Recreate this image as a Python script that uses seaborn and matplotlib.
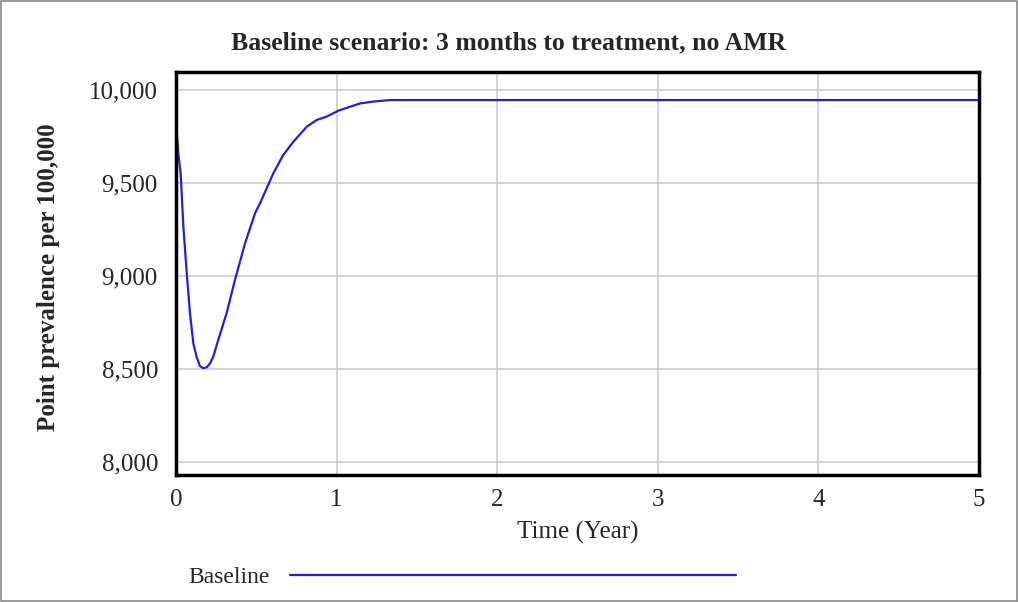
import numpy as np
import pandas as pd
import seaborn as sns
import matplotlib.pyplot as plt

# data
time_year = [0.0, 0.003, 0.014, 0.029, 0.046, 0.067, 0.087, 0.108, 0.128, 0.149,
             0.170, 0.191, 0.212, 0.232, 0.263, 0.315, 0.367, 0.430, 0.492, 0.523,
             0.606, 0.668, 0.731, 0.814, 0.876, 0.938, 1.011, 1.146, 1.229, 1.333,
             2.0, 3.0, 4.0, 5.0]
prevalence = [9830, 9800, 9660, 9552, 9265, 9014, 8800, 8638, 8566, 8516,
              8504, 8509, 8530, 8566, 8656, 8800, 8978, 9176, 9337, 9391,
              9552, 9651, 9722, 9803, 9839, 9857, 9889, 9928, 9938, 9946,
              9946, 9946, 9946, 9946]
series_name = "Baseline"
x_ticks = [0, 1, 2, 3, 4, 5]
y_ticks = [8000, 8500, 9000, 9500, 10000]

df = pd.DataFrame({"Time": time_year, "Prevalence": prevalence, "Scenario": series_name})

sns.set_style("white")
plt.rcParams["font.family"] = ["Liberation Serif", "DejaVu Serif"]

fig = plt.figure(figsize=(10.18, 6.02), dpi=100)
ax = fig.add_axes([176 / 1018, 1 - 475 / 602, (979 - 176) / 1018, (475 - 72) / 602])

sns.lineplot(data=df, x="Time", y="Prevalence", hue="Scenario",
             palette=["#2020e0"], linewidth=1.6, ax=ax, legend=False)

ax.set_xlim(0, 5)
ax.set_ylim(7930, 10097)
ax.set_xticks(x_ticks)
ax.set_yticks(y_ticks)
ax.set_yticklabels([f"{v:,}" for v in y_ticks])
ax.tick_params(axis="both", labelsize=18, length=0)
ax.tick_params(axis="y", pad=13)
ax.tick_params(axis="x", pad=10)
ax.grid(True, color="#cccccc", linewidth=1.2)
for s in ax.spines.values():
    s.set_color("black")
    s.set_linewidth(2.5)
    s.set_visible(True)

ax.set_xlabel("Time (Year)", fontsize=18, labelpad=7)
ax.set_ylabel("Point prevalence per 100,000", fontsize=18, fontweight="bold")
ax.yaxis.set_label_coords((60 - 176) / (979 - 176), 0.49)
fig.suptitle("Baseline scenario: 3 months to treatment, no AMR", fontsize=18.5,
             fontweight="bold", x=0.5, y=1 - 43 / 602, va="center")

handle = plt.Line2D([], [], color="#2020e0", linewidth=1.6)
fig.legend([handle], [series_name], loc="center left",
           bbox_to_anchor=(167 / 1018, 1 - 577 / 602), frameon=False,
           markerfirst=False, handlelength=18.9, fontsize=17, handletextpad=0.85)

# thin grey frame round the picture
fig.patches.append(plt.Rectangle((0.001, 0.001), 0.998, 0.998, transform=fig.transFigure,
                                 fill=False, edgecolor="#888888", linewidth=1.2))

fig.savefig("out.png", dpi=100)
